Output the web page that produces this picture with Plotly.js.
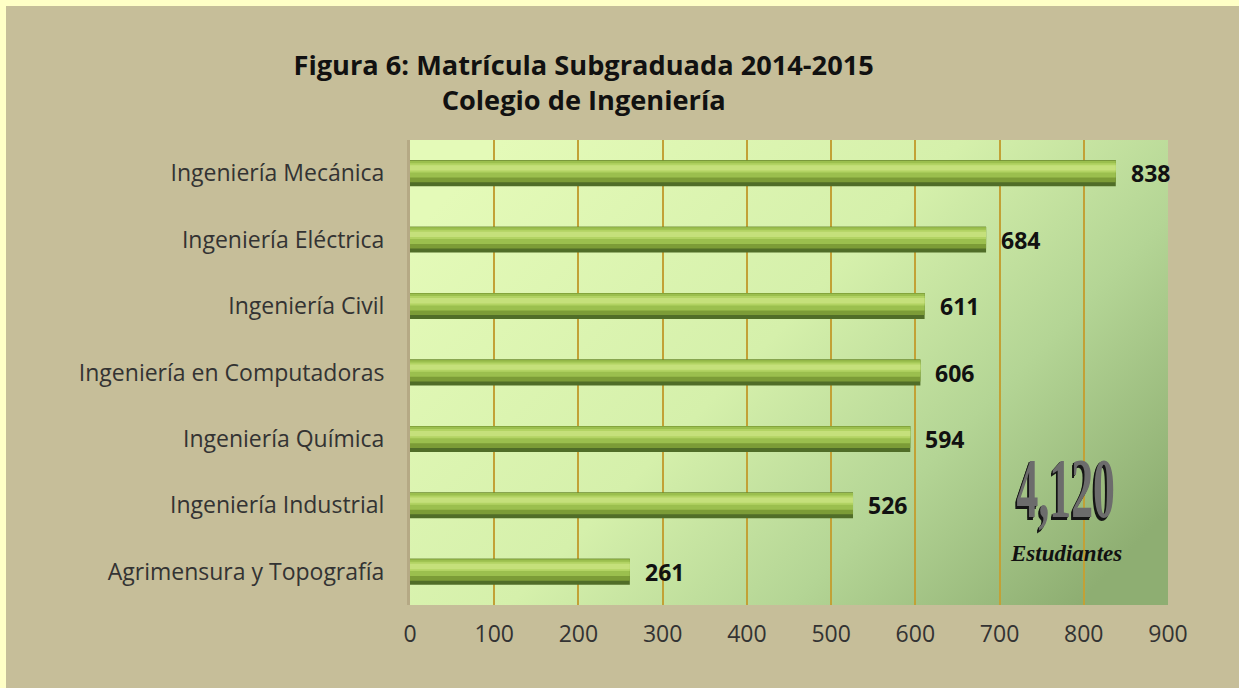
<!DOCTYPE html>
<html>
<head>
<meta charset="utf-8">
<script src="https://cdn.plot.ly/plotly-3.0.1.min.js"></script>
<style>
  html, body { margin: 0; padding: 0; background: #FFFFC6; width: 1239px; height: 688px; overflow: hidden; }
  #chart { position: absolute; left: 6px; top: 6px; width: 1233px; height: 682px; }
</style>
</head>
<body>
<div id="chart"></div>
<script>
// ---- data ----
const categories = [
  "Ingeniería Mecánica",
  "Ingeniería Eléctrica",
  "Ingeniería Civil",
  "Ingeniería en Computadoras",
  "Ingeniería Química",
  "Ingeniería Industrial",
  "Agrimensura y Topografía"
];
const students = [838, 684, 611, 606, 594, 526, 261];
const totalLabel = "4,120";
const totalCaption = "Estudiantes";
const xTicks = [0, 100, 200, 300, 400, 500, 600, 700, 800, 900];
const titleLines = ["Figura 6: Matrícula Subgraduada 2014-2015", "Colegio de Ingeniería"];

// ---- cylinder-like bar layers (style only) ----
const layers = [
  { offset: -0.195, width: 0.39, color: "#506D28" },
  { offset: -0.195, width: 0.33, color: "#7C9C37" },
  { offset: -0.185, width: 0.25, color: "#9BBF4E" },
  { offset: -0.15,  width: 0.14, color: "#B2D363" },
  { offset: -0.12,  width: 0.08, color: "#C5E07B" }
];

const traces = layers.map(l => ({
  type: "bar",
  orientation: "h",
  x: students,
  y: categories,
  offset: l.offset,
  width: l.width,
  marker: { color: l.color, line: { width: 0 } },
  hoverinfo: "skip",
  showlegend: false
}));

const bgSvg = '<svg xmlns="http://www.w3.org/2000/svg" width="758" height="465" viewBox="0 0 758 465" preserveAspectRatio="none">' +
  '<defs><linearGradient id="g" x1="0" y1="0.2" x2="1" y2="0.8">' +
  '<stop offset="0" stop-color="#E4FAB8"/>' +
  '<stop offset="0.45" stop-color="#D5F0AB"/>' +
  '<stop offset="0.72" stop-color="#B4D595"/>' +
  '<stop offset="1" stop-color="#8EAE72"/>' +
  '</linearGradient></defs><rect width="758" height="465" fill="url(#g)"/></svg>';

const annotations = categories.map((c, i) => ({
  x: students[i], y: c, xref: "x", yref: "y",
  text: String(students[i]),
  showarrow: false, xanchor: "left", yanchor: "middle", xshift: 13,
  font: { family: "Open Sans", size: 23, color: "#111111", weight: 700 }
}));

annotations.push({
  x: 0.865, y: 0.25, xref: "paper", yref: "paper",
  text: totalLabel, showarrow: false, xanchor: "center", yanchor: "middle",
  font: { family: "Liberation Sans Narrow", size: 46, color: "#6C6C6C", weight: 700,
          shadow: "-2px 1px 0 #151515, -3px 2px 0 #151515" }
});
annotations.push({
  x: 0.865, y: 0.11, xref: "paper", yref: "paper",
  text: totalCaption, showarrow: false, xanchor: "center", yanchor: "middle",
  font: { family: "Liberation Serif", size: 23, color: "#111111", style: "italic", weight: 700 }
});

const layout = {
  width: 1233, height: 682,
  paper_bgcolor: "#C6BE99",
  plot_bgcolor: "rgba(0,0,0,0)",
  margin: { l: 404, r: 71, t: 134, b: 83, pad: 0 },
  barmode: "overlay",
  title: {
    text: titleLines.join("<br>"),
    font: { family: "Open Sans", size: 27.2, color: "#111111", weight: 700 },
    xref: "container", yref: "container", x: 0.4685, xanchor: "center",
    y: 0.899, yanchor: "top"
  },
  xaxis: {
    range: [0, 900], tickvals: xTicks, ticktext: xTicks.map(String),
    showgrid: true, gridcolor: "#C2A136", gridwidth: 2,
    zeroline: false, showline: false, ticks: "",
    tickfont: { family: "Open Sans", size: 23, color: "#333333" },
    ticklabelstandoff: 13, fixedrange: true
  },
  yaxis: {
    type: "category", autorange: "reversed",
    showgrid: false, zeroline: false,
    showline: true, linecolor: "#B5A985", linewidth: 3, ticks: "",
    tickfont: { family: "Open Sans", size: 23, color: "#333333" },
    ticklabelstandoff: 18, fixedrange: true
  },
  images: [{
    source: "data:image/svg+xml;charset=utf-8," + encodeURIComponent(bgSvg),
    xref: "paper", yref: "paper", x: 0, y: 1, sizex: 1, sizey: 1,
    sizing: "stretch", layer: "below", xanchor: "left", yanchor: "top"
  }],
  annotations: annotations,
  showlegend: false
};

Plotly.newPlot("chart", traces, layout, { displayModeBar: false, staticPlot: true }).then(() => {
  document.querySelectorAll("text.annotation-text").forEach(t => {
    if (t.textContent === totalLabel) {
      t.style.transformBox = "fill-box";
      t.style.transformOrigin = "center";
      t.style.transform = "scale(0.95, 1.85)";
    }
  });
});
</script>
</body>
</html>
